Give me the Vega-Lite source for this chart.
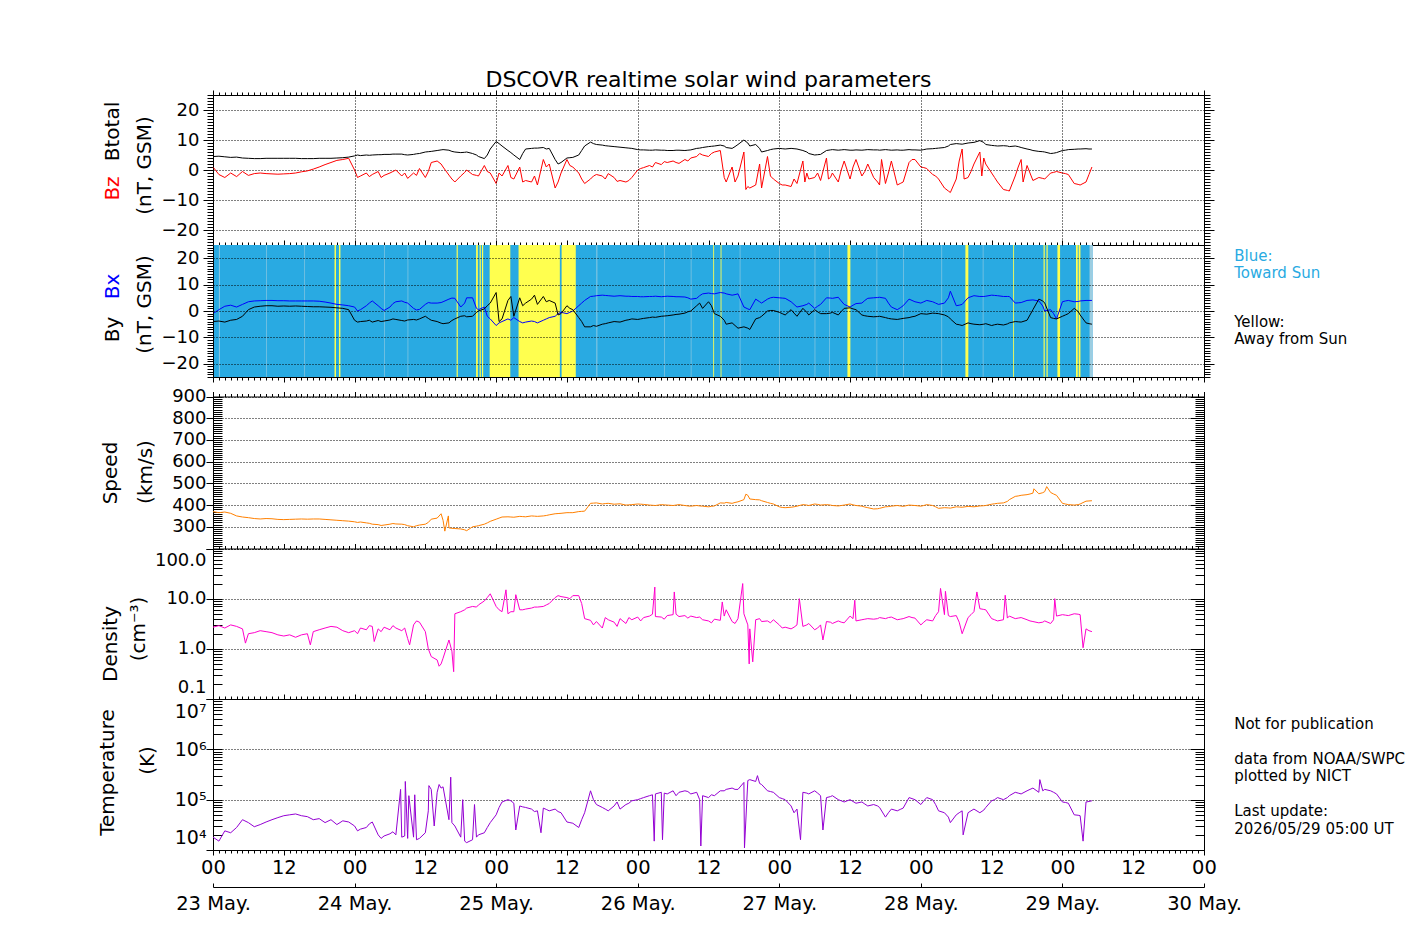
{
  "$schema": "https://vega.github.io/schema/vega-lite/v6.json",
  "padding": {"left": 97, "top": 68, "right": 5, "bottom": 10},
  "width": 991,
  "height": 755,
  "config": {
    "font": "DejaVu Sans",
    "view": {"stroke": null},
    "line": {"invalid": "filter"},
    "axis": {"labelFont": "DejaVu Sans", "titleFont": "DejaVu Sans", "labelColor": "black", "titleColor": "black", "tickColor": "black", "domainColor": "black", "titleFontWeight": "normal", "labelFontSize": 18, "titleFontSize": 20, "grid": false, "domain": false, "labelOverlap": false, "tickWidth": 1}
  },
  "title": {"text": "DSCOVR realtime solar wind parameters", "fontSize": 22, "font": "DejaVu Sans", "fontWeight": "normal", "color": "black", "anchor": "middle", "frame": "group", "offset": -2},
  "datasets": {
    "imf": [
      {"start": "2026-05-23T00:00Z", "end": "2026-05-29T05:06Z", "dir": "toward"},
      {"start": "2026-05-23T01:00Z", "end": "2026-05-23T01:09Z", "dir": "mixed"},
      {"start": "2026-05-23T09:00Z", "end": "2026-05-23T09:06Z", "dir": "mixed"},
      {"start": "2026-05-23T15:30Z", "end": "2026-05-23T15:36Z", "dir": "mixed"},
      {"start": "2026-05-24T05:00Z", "end": "2026-05-24T05:06Z", "dir": "mixed"},
      {"start": "2026-05-24T09:00Z", "end": "2026-05-24T09:06Z", "dir": "mixed"},
      {"start": "2026-05-25T17:00Z", "end": "2026-05-25T17:09Z", "dir": "mixed"},
      {"start": "2026-05-26T04:30Z", "end": "2026-05-26T04:36Z", "dir": "mixed"},
      {"start": "2026-05-26T09:00Z", "end": "2026-05-26T09:06Z", "dir": "mixed"},
      {"start": "2026-05-26T17:18Z", "end": "2026-05-26T17:24Z", "dir": "mixed"},
      {"start": "2026-05-27T00:00Z", "end": "2026-05-27T00:06Z", "dir": "mixed"},
      {"start": "2026-05-27T06:00Z", "end": "2026-05-27T06:06Z", "dir": "mixed"},
      {"start": "2026-05-27T08:30Z", "end": "2026-05-27T08:36Z", "dir": "mixed"},
      {"start": "2026-05-27T16:30Z", "end": "2026-05-27T16:36Z", "dir": "mixed"},
      {"start": "2026-05-27T21:00Z", "end": "2026-05-27T21:06Z", "dir": "mixed"},
      {"start": "2026-05-28T03:30Z", "end": "2026-05-28T03:36Z", "dir": "mixed"},
      {"start": "2026-05-28T10:30Z", "end": "2026-05-28T10:36Z", "dir": "mixed"},
      {"start": "2026-05-29T04:36Z", "end": "2026-05-29T05:06Z", "dir": "mixed"},
      {"start": "2026-05-23T20:36Z", "end": "2026-05-23T20:51Z", "dir": "away"},
      {"start": "2026-05-23T21:21Z", "end": "2026-05-23T21:36Z", "dir": "away"},
      {"start": "2026-05-24T17:18Z", "end": "2026-05-24T17:30Z", "dir": "away"},
      {"start": "2026-05-24T20:36Z", "end": "2026-05-24T20:54Z", "dir": "away"},
      {"start": "2026-05-24T21:12Z", "end": "2026-05-24T21:24Z", "dir": "away"},
      {"start": "2026-05-24T21:36Z", "end": "2026-05-24T21:48Z", "dir": "away"},
      {"start": "2026-05-24T22:54Z", "end": "2026-05-25T02:24Z", "dir": "away"},
      {"start": "2026-05-25T03:48Z", "end": "2026-05-25T10:48Z", "dir": "away"},
      {"start": "2026-05-25T11:06Z", "end": "2026-05-25T13:30Z", "dir": "away"},
      {"start": "2026-05-26T12:48Z", "end": "2026-05-26T12:57Z", "dir": "away"},
      {"start": "2026-05-26T14:03Z", "end": "2026-05-26T14:12Z", "dir": "away"},
      {"start": "2026-05-27T11:33Z", "end": "2026-05-27T12:03Z", "dir": "away"},
      {"start": "2026-05-28T07:33Z", "end": "2026-05-28T08:03Z", "dir": "away"},
      {"start": "2026-05-28T15:39Z", "end": "2026-05-28T15:48Z", "dir": "away"},
      {"start": "2026-05-28T20:48Z", "end": "2026-05-28T21:00Z", "dir": "away"},
      {"start": "2026-05-28T21:18Z", "end": "2026-05-28T21:30Z", "dir": "away"},
      {"start": "2026-05-28T23:09Z", "end": "2026-05-28T23:36Z", "dir": "away"},
      {"start": "2026-05-29T02:18Z", "end": "2026-05-29T02:36Z", "dir": "away"},
      {"start": "2026-05-29T02:45Z", "end": "2026-05-29T03:03Z", "dir": "away"}
    ],
    "sw": [
      {"time": "2026-05-23T00:00Z", "bt": 4.5, "bz": 1.0, "bx": -1.0, "by": -4.0, "v": 370, "n": 2.7, "temp": 18000},
      {"time": "2026-05-23T01:00Z", "bt": 4.6, "bz": -1.5, "bx": 0.5, "by": -3.8, "v": 365, "n": 2.9, "temp": 15000},
      {"time": "2026-05-23T02:00Z", "bt": 4.4, "bz": -2.5, "bx": 1.8, "by": -4.2, "v": 368, "n": 2.6, "temp": 24000},
      {"time": "2026-05-23T03:00Z", "bt": 4.2, "bz": -1.0, "bx": 2.2, "by": -3.5, "v": 362, "n": 3.0, "temp": 22000},
      {"time": "2026-05-23T04:00Z", "bt": 4.3, "bz": -2.2, "bx": 1.5, "by": -3.2, "v": 350, "n": 2.8, "temp": 28000},
      {"time": "2026-05-23T05:00Z", "bt": 4.0, "bz": -0.5, "bx": 2.5, "by": -2.0, "v": 345, "n": 2.5, "temp": 40000},
      {"time": "2026-05-23T06:00Z", "bt": 3.9, "bz": -1.8, "bx": 3.5, "by": 0.5, "v": 342, "n": 2.0, "temp": 35000},
      {"time": "2026-05-23T07:00Z", "bt": 3.8, "bz": -1.2, "bx": 3.8, "by": 1.5, "v": 338, "n": 2.1, "temp": 29000},
      {"time": "2026-05-23T08:00Z", "bt": 3.8, "bz": -1.0, "bx": 3.9, "by": 1.8, "v": 336, "n": 2.3, "temp": 32000},
      {"time": "2026-05-23T09:00Z", "bt": 3.9, "bz": -1.2, "bx": 4.0, "by": 2.0, "v": 338, "n": 2.2, "temp": 36000},
      {"time": "2026-05-23T10:00Z", "bt": 3.9, "bz": -1.3, "bx": 4.0, "by": 2.0, "v": 337, "n": 2.1, "temp": 40000},
      {"time": "2026-05-23T11:00Z", "bt": 3.9, "bz": -1.4, "bx": 3.9, "by": 1.8, "v": 334, "n": 1.9, "temp": 44000},
      {"time": "2026-05-23T12:00Z", "bt": 3.9, "bz": -1.3, "bx": 3.9, "by": 1.9, "v": 333, "n": 1.8, "temp": 48000},
      {"time": "2026-05-23T13:00Z", "bt": 3.9, "bz": -1.2, "bx": 3.8, "by": 1.8, "v": 334, "n": 1.9, "temp": 50000},
      {"time": "2026-05-23T14:00Z", "bt": 3.9, "bz": -1.0, "bx": 3.8, "by": 1.9, "v": 335, "n": 1.7, "temp": 52000},
      {"time": "2026-05-23T15:00Z", "bt": 3.8, "bz": -0.6, "bx": 3.8, "by": 1.8, "v": 336, "n": 1.9, "temp": 48000},
      {"time": "2026-05-23T16:00Z", "bt": 3.8, "bz": -0.3, "bx": 3.8, "by": 1.7, "v": 335, "n": 2.0, "temp": 46000},
      {"time": "2026-05-23T17:00Z", "bt": 3.8, "bz": 0.3, "bx": 3.8, "by": 1.6, "v": 336, "n": 2.2, "temp": 40000},
      {"time": "2026-05-23T18:00Z", "bt": 3.9, "bz": 1.0, "bx": 3.7, "by": 1.6, "v": 336, "n": 2.4, "temp": 42000},
      {"time": "2026-05-23T19:00Z", "bt": 3.9, "bz": 1.8, "bx": 3.4, "by": 1.5, "v": 334, "n": 2.6, "temp": 35000},
      {"time": "2026-05-23T20:00Z", "bt": 3.9, "bz": 2.5, "bx": 3.0, "by": 1.4, "v": 332, "n": 2.8, "temp": 40000},
      {"time": "2026-05-23T21:00Z", "bt": 4.0, "bz": 3.2, "bx": 2.5, "by": 1.2, "v": 330, "n": 2.7, "temp": 32000},
      {"time": "2026-05-23T22:00Z", "bt": 4.1, "bz": 3.5, "bx": 2.3, "by": 1.0, "v": 328, "n": 2.3, "temp": 38000},
      {"time": "2026-05-23T23:00Z", "bt": 4.3, "bz": 3.9, "bx": 2.0, "by": 0.5, "v": 326, "n": 2.1, "temp": 36000},
      {"time": "2026-05-24T00:00Z", "bt": 4.7, "bz": 0.0, "bx": 1.5, "by": -3.5, "v": 323, "n": 2.3, "temp": 30000},
      {"time": "2026-05-24T01:00Z", "bt": 4.8, "bz": -2.0, "bx": 0.5, "by": -4.0, "v": 322, "n": 2.6, "temp": 26000},
      {"time": "2026-05-24T02:00Z", "bt": 5.0, "bz": -1.0, "bx": 2.0, "by": -3.8, "v": 318, "n": 2.4, "temp": 28000},
      {"time": "2026-05-24T03:00Z", "bt": 5.0, "bz": -1.5, "bx": 3.8, "by": -4.2, "v": 312, "n": 2.8, "temp": 36000},
      {"time": "2026-05-24T04:00Z", "bt": 5.1, "bz": -0.5, "bx": 2.0, "by": -3.6, "v": 310, "n": 2.5, "temp": 20000},
      {"time": "2026-05-24T05:00Z", "bt": 5.2, "bz": -1.8, "bx": 0.2, "by": -3.8, "v": 308, "n": 2.7, "temp": 19000},
      {"time": "2026-05-24T06:00Z", "bt": 5.2, "bz": -1.0, "bx": 1.5, "by": -3.4, "v": 312, "n": 2.4, "temp": 21000},
      {"time": "2026-05-24T07:00Z", "bt": 5.3, "bz": 0.0, "bx": 3.5, "by": -3.2, "v": 313, "n": 2.6, "temp": 20000},
      {"time": "2026-05-24T08:00Z", "bt": 5.3, "bz": -2.0, "bx": 3.8, "by": -3.6, "v": 312, "n": 2.3, "temp": 18000},
      {"time": "2026-05-24T09:00Z", "bt": 5.0, "bz": -2.8, "bx": 3.0, "by": -3.4, "v": 305, "n": 1.6, "temp": 17000},
      {"time": "2026-05-24T10:00Z", "bt": 5.2, "bz": -1.0, "bx": 1.0, "by": -3.2, "v": 300, "n": 3.0, "temp": 18000},
      {"time": "2026-05-24T11:00Z", "bt": 5.5, "bz": 0.5, "bx": 0.6, "by": -3.0, "v": 308, "n": 3.4, "temp": 17000},
      {"time": "2026-05-24T12:00Z", "bt": 6.0, "bz": -2.5, "bx": 2.5, "by": -2.0, "v": 312, "n": 2.2, "temp": 22000},
      {"time": "2026-05-24T13:00Z", "bt": 6.2, "bz": 2.5, "bx": 3.0, "by": -3.5, "v": 335, "n": 0.7, "temp": 160000},
      {"time": "2026-05-24T14:00Z", "bt": 6.5, "bz": 3.0, "bx": 3.0, "by": -4.0, "v": 340, "n": 0.6, "temp": 140000},
      {"time": "2026-05-24T15:00Z", "bt": 6.8, "bz": 1.0, "bx": 3.5, "by": -4.8, "v": 330, "n": 0.65, "temp": 180000},
      {"time": "2026-05-24T16:00Z", "bt": 6.6, "bz": -1.7, "bx": 4.5, "by": -4.5, "v": 295, "n": 1.5, "temp": 40000},
      {"time": "2026-05-24T17:00Z", "bt": 6.0, "bz": -4.0, "bx": 4.8, "by": -3.0, "v": 292, "n": 5.0, "temp": 30000},
      {"time": "2026-05-24T18:00Z", "bt": 5.8, "bz": -2.0, "bx": 1.5, "by": -2.0, "v": 290, "n": 5.5, "temp": 18000},
      {"time": "2026-05-24T19:00Z", "bt": 6.0, "bz": 0.0, "bx": 5.0, "by": -2.2, "v": 282, "n": 6.5, "temp": 14000},
      {"time": "2026-05-24T20:00Z", "bt": 5.5, "bz": -1.5, "bx": 5.0, "by": -2.0, "v": 300, "n": 7.0, "temp": 16000},
      {"time": "2026-05-24T21:00Z", "bt": 4.5, "bz": -2.0, "bx": 0.5, "by": 0.0, "v": 305, "n": 7.5, "temp": 20000},
      {"time": "2026-05-24T22:00Z", "bt": 3.8, "bz": 1.5, "bx": 1.5, "by": 0.8, "v": 312, "n": 9.0, "temp": 22000},
      {"time": "2026-05-24T23:00Z", "bt": 7.0, "bz": -1.0, "bx": -3.0, "by": 3.0, "v": 325, "n": 12.5, "temp": 35000},
      {"time": "2026-05-25T00:00Z", "bt": 9.5, "bz": -4.5, "bx": -5.5, "by": 7.0, "v": 335, "n": 7.0, "temp": 50000},
      {"time": "2026-05-25T01:00Z", "bt": 8.0, "bz": -2.0, "bx": -4.0, "by": -3.0, "v": 345, "n": 5.5, "temp": 90000},
      {"time": "2026-05-25T02:00Z", "bt": 6.5, "bz": 1.5, "bx": -3.0, "by": 4.0, "v": 346, "n": 5.0, "temp": 100000},
      {"time": "2026-05-25T03:00Z", "bt": 5.0, "bz": -3.0, "bx": -2.5, "by": -2.0, "v": 344, "n": 5.5, "temp": 85000},
      {"time": "2026-05-25T04:00Z", "bt": 3.5, "bz": 1.0, "bx": -4.0, "by": 5.0, "v": 348, "n": 6.0, "temp": 75000},
      {"time": "2026-05-25T05:00Z", "bt": 7.0, "bz": -3.5, "bx": -4.2, "by": 3.0, "v": 346, "n": 6.2, "temp": 70000},
      {"time": "2026-05-25T06:00Z", "bt": 7.2, "bz": -4.0, "bx": -3.8, "by": 4.5, "v": 350, "n": 6.5, "temp": 65000},
      {"time": "2026-05-25T07:00Z", "bt": 7.3, "bz": -5.0, "bx": -4.5, "by": 2.5, "v": 348, "n": 6.8, "temp": 60000},
      {"time": "2026-05-25T08:00Z", "bt": 7.5, "bz": 3.5, "bx": -3.5, "by": 5.5, "v": 350, "n": 7.0, "temp": 68000},
      {"time": "2026-05-25T09:00Z", "bt": 7.2, "bz": 2.0, "bx": -2.5, "by": 4.0, "v": 355, "n": 8.0, "temp": 60000},
      {"time": "2026-05-25T10:00Z", "bt": 3.5, "bz": -6.0, "bx": -2.0, "by": 3.0, "v": 360, "n": 10.5, "temp": 65000},
      {"time": "2026-05-25T11:00Z", "bt": 2.5, "bz": -1.0, "bx": -0.5, "by": -1.0, "v": 362, "n": 11.0, "temp": 55000},
      {"time": "2026-05-25T12:00Z", "bt": 4.0, "bz": 3.5, "bx": -1.0, "by": 2.0, "v": 365, "n": 10.5, "temp": 36000},
      {"time": "2026-05-25T13:00Z", "bt": 4.2, "bz": 1.0, "bx": 0.0, "by": 0.5, "v": 365, "n": 11.5, "temp": 34000},
      {"time": "2026-05-25T14:00Z", "bt": 5.0, "bz": -1.0, "bx": 2.0, "by": -2.5, "v": 370, "n": 11.5, "temp": 28000},
      {"time": "2026-05-25T15:00Z", "bt": 8.0, "bz": -4.5, "bx": 4.0, "by": -6.0, "v": 372, "n": 4.0, "temp": 55000},
      {"time": "2026-05-25T16:00Z", "bt": 9.3, "bz": -3.0, "bx": 5.5, "by": -6.0, "v": 408, "n": 3.7, "temp": 150000},
      {"time": "2026-05-25T17:00Z", "bt": 8.5, "bz": -1.5, "bx": 5.8, "by": -5.8, "v": 410, "n": 3.5, "temp": 80000},
      {"time": "2026-05-25T18:00Z", "bt": 8.3, "bz": -2.0, "bx": 6.0, "by": -5.0, "v": 405, "n": 2.6, "temp": 70000},
      {"time": "2026-05-25T19:00Z", "bt": 8.0, "bz": -1.2, "bx": 5.8, "by": -4.5, "v": 408, "n": 3.8, "temp": 60000},
      {"time": "2026-05-25T20:00Z", "bt": 7.8, "bz": -2.5, "bx": 5.6, "by": -4.0, "v": 404, "n": 3.4, "temp": 75000},
      {"time": "2026-05-25T21:00Z", "bt": 7.6, "bz": -3.5, "bx": 5.8, "by": -4.2, "v": 406, "n": 4.0, "temp": 65000},
      {"time": "2026-05-25T22:00Z", "bt": 7.4, "bz": -4.0, "bx": 5.6, "by": -3.5, "v": 400, "n": 3.2, "temp": 80000},
      {"time": "2026-05-25T23:00Z", "bt": 7.2, "bz": -2.5, "bx": 5.5, "by": -3.0, "v": 402, "n": 3.8, "temp": 95000},
      {"time": "2026-05-26T00:00Z", "bt": 6.8, "bz": 0.0, "bx": 5.5, "by": -3.2, "v": 405, "n": 4.3, "temp": 100000},
      {"time": "2026-05-26T01:00Z", "bt": 6.7, "bz": 0.8, "bx": 5.4, "by": -2.8, "v": 403, "n": 4.2, "temp": 110000},
      {"time": "2026-05-26T02:00Z", "bt": 6.6, "bz": 1.5, "bx": 5.5, "by": -2.5, "v": 400, "n": 4.5, "temp": 120000},
      {"time": "2026-05-26T03:00Z", "bt": 6.7, "bz": 2.5, "bx": 5.6, "by": -2.4, "v": 398, "n": 4.4, "temp": 130000},
      {"time": "2026-05-26T04:00Z", "bt": 6.6, "bz": 1.8, "bx": 5.4, "by": -2.0, "v": 402, "n": 4.3, "temp": 140000},
      {"time": "2026-05-26T05:00Z", "bt": 6.5, "bz": 2.5, "bx": 5.6, "by": -1.8, "v": 400, "n": 4.6, "temp": 130000},
      {"time": "2026-05-26T06:00Z", "bt": 6.5, "bz": 3.0, "bx": 5.5, "by": -1.5, "v": 398, "n": 4.8, "temp": 150000},
      {"time": "2026-05-26T07:00Z", "bt": 6.6, "bz": 2.2, "bx": 5.4, "by": -1.2, "v": 402, "n": 4.4, "temp": 140000},
      {"time": "2026-05-26T08:00Z", "bt": 6.5, "bz": 3.5, "bx": 5.3, "by": -0.8, "v": 398, "n": 4.6, "temp": 150000},
      {"time": "2026-05-26T09:00Z", "bt": 6.7, "bz": 4.0, "bx": 4.5, "by": 0.0, "v": 395, "n": 4.5, "temp": 130000},
      {"time": "2026-05-26T10:00Z", "bt": 7.2, "bz": 4.5, "bx": 4.8, "by": 2.0, "v": 398, "n": 4.2, "temp": 140000},
      {"time": "2026-05-26T11:00Z", "bt": 7.5, "bz": 5.0, "bx": 6.5, "by": 1.0, "v": 395, "n": 3.8, "temp": 120000},
      {"time": "2026-05-26T12:00Z", "bt": 7.8, "bz": 4.5, "bx": 6.8, "by": 3.5, "v": 392, "n": 3.6, "temp": 110000},
      {"time": "2026-05-26T13:00Z", "bt": 8.0, "bz": 6.0, "bx": 6.5, "by": -1.0, "v": 396, "n": 3.9, "temp": 120000},
      {"time": "2026-05-26T14:00Z", "bt": 8.3, "bz": 6.5, "bx": 7.0, "by": -2.0, "v": 410, "n": 3.7, "temp": 150000},
      {"time": "2026-05-26T15:00Z", "bt": 7.5, "bz": -4.0, "bx": 6.5, "by": -5.0, "v": 412, "n": 6.0, "temp": 160000},
      {"time": "2026-05-26T16:00Z", "bt": 7.2, "bz": 1.0, "bx": 6.0, "by": -4.5, "v": 408, "n": 3.5, "temp": 170000},
      {"time": "2026-05-26T17:00Z", "bt": 8.5, "bz": -2.0, "bx": 6.5, "by": -6.5, "v": 415, "n": 4.0, "temp": 160000},
      {"time": "2026-05-26T18:00Z", "bt": 10.0, "bz": 6.0, "bx": 1.5, "by": -6.0, "v": 425, "n": 5.0, "temp": 220000},
      {"time": "2026-05-26T19:00Z", "bt": 8.0, "bz": -6.0, "bx": 0.5, "by": -7.0, "v": 428, "n": 2.5, "temp": 250000},
      {"time": "2026-05-26T20:00Z", "bt": 8.5, "bz": -5.0, "bx": 4.5, "by": -3.0, "v": 425, "n": 3.8, "temp": 230000},
      {"time": "2026-05-26T21:00Z", "bt": 6.0, "bz": -6.0, "bx": 3.0, "by": -2.0, "v": 420, "n": 3.5, "temp": 200000},
      {"time": "2026-05-26T22:00Z", "bt": 6.5, "bz": 4.5, "bx": 4.5, "by": 0.0, "v": 412, "n": 3.6, "temp": 150000},
      {"time": "2026-05-26T23:00Z", "bt": 7.0, "bz": -3.0, "bx": 5.2, "by": 0.2, "v": 405, "n": 3.8, "temp": 140000},
      {"time": "2026-05-27T00:00Z", "bt": 7.2, "bz": -4.5, "bx": 5.0, "by": -0.5, "v": 392, "n": 3.0, "temp": 110000},
      {"time": "2026-05-27T01:00Z", "bt": 7.0, "bz": -5.0, "bx": 4.8, "by": -1.5, "v": 388, "n": 2.7, "temp": 100000},
      {"time": "2026-05-27T02:00Z", "bt": 7.2, "bz": -5.5, "bx": 3.5, "by": 0.5, "v": 390, "n": 2.5, "temp": 75000},
      {"time": "2026-05-27T03:00Z", "bt": 7.0, "bz": -4.5, "bx": 1.5, "by": -2.0, "v": 395, "n": 3.0, "temp": 65000},
      {"time": "2026-05-27T04:00Z", "bt": 6.5, "bz": 3.0, "bx": 2.0, "by": 1.0, "v": 402, "n": 2.8, "temp": 140000},
      {"time": "2026-05-27T05:00Z", "bt": 5.5, "bz": -3.0, "bx": 3.0, "by": -1.5, "v": 398, "n": 3.2, "temp": 130000},
      {"time": "2026-05-27T06:00Z", "bt": 5.0, "bz": -2.5, "bx": 1.0, "by": 0.5, "v": 405, "n": 2.4, "temp": 150000},
      {"time": "2026-05-27T07:00Z", "bt": 5.2, "bz": -3.5, "bx": 2.5, "by": -1.0, "v": 400, "n": 3.0, "temp": 120000},
      {"time": "2026-05-27T08:00Z", "bt": 6.5, "bz": 4.0, "bx": 5.0, "by": -1.0, "v": 402, "n": 3.5, "temp": 110000},
      {"time": "2026-05-27T09:00Z", "bt": 6.8, "bz": -1.0, "bx": 4.8, "by": -0.5, "v": 398, "n": 3.2, "temp": 120000},
      {"time": "2026-05-27T10:00Z", "bt": 6.6, "bz": -4.0, "bx": 5.2, "by": -1.5, "v": 396, "n": 3.6, "temp": 100000},
      {"time": "2026-05-27T11:00Z", "bt": 6.8, "bz": 3.0, "bx": 2.5, "by": 1.0, "v": 400, "n": 3.3, "temp": 90000},
      {"time": "2026-05-27T12:00Z", "bt": 6.6, "bz": -3.0, "bx": 1.5, "by": 1.2, "v": 405, "n": 4.5, "temp": 100000},
      {"time": "2026-05-27T13:00Z", "bt": 6.7, "bz": 3.5, "bx": 2.8, "by": 0.5, "v": 398, "n": 3.6, "temp": 85000},
      {"time": "2026-05-27T14:00Z", "bt": 6.6, "bz": -2.0, "bx": 3.0, "by": -1.5, "v": 395, "n": 3.8, "temp": 90000},
      {"time": "2026-05-27T15:00Z", "bt": 6.8, "bz": 2.0, "bx": 4.8, "by": -2.0, "v": 388, "n": 4.0, "temp": 75000},
      {"time": "2026-05-27T16:00Z", "bt": 6.7, "bz": -2.5, "bx": 5.0, "by": -2.2, "v": 382, "n": 3.9, "temp": 80000},
      {"time": "2026-05-27T17:00Z", "bt": 6.6, "bz": -5.0, "bx": 5.2, "by": -2.0, "v": 385, "n": 4.2, "temp": 70000},
      {"time": "2026-05-27T18:00Z", "bt": 6.8, "bz": -4.5, "bx": 4.8, "by": -2.5, "v": 392, "n": 4.0, "temp": 45000},
      {"time": "2026-05-27T19:00Z", "bt": 6.6, "bz": 3.0, "bx": 1.5, "by": -3.0, "v": 395, "n": 4.3, "temp": 65000},
      {"time": "2026-05-27T20:00Z", "bt": 6.7, "bz": -5.0, "bx": 0.5, "by": -3.2, "v": 398, "n": 3.8, "temp": 60000},
      {"time": "2026-05-27T21:00Z", "bt": 6.6, "bz": -4.0, "bx": 2.0, "by": -2.8, "v": 394, "n": 4.0, "temp": 68000},
      {"time": "2026-05-27T22:00Z", "bt": 6.8, "bz": 2.5, "bx": 4.5, "by": -2.5, "v": 400, "n": 4.4, "temp": 110000},
      {"time": "2026-05-27T23:00Z", "bt": 6.7, "bz": 3.5, "bx": 3.5, "by": -2.0, "v": 398, "n": 4.1, "temp": 100000},
      {"time": "2026-05-28T00:00Z", "bt": 6.6, "bz": 1.0, "bx": 3.0, "by": -1.0, "v": 395, "n": 3.0, "temp": 80000},
      {"time": "2026-05-28T01:00Z", "bt": 7.0, "bz": 0.5, "bx": 4.0, "by": -1.2, "v": 402, "n": 3.8, "temp": 110000},
      {"time": "2026-05-28T02:00Z", "bt": 7.1, "bz": -1.5, "bx": 3.5, "by": -0.8, "v": 398, "n": 3.6, "temp": 100000},
      {"time": "2026-05-28T03:00Z", "bt": 7.3, "bz": -3.0, "bx": 2.5, "by": -1.0, "v": 385, "n": 5.5, "temp": 60000},
      {"time": "2026-05-28T04:00Z", "bt": 7.5, "bz": -6.0, "bx": 3.0, "by": -1.5, "v": 388, "n": 4.8, "temp": 55000},
      {"time": "2026-05-28T05:00Z", "bt": 8.5, "bz": -7.5, "bx": 7.5, "by": -3.0, "v": 386, "n": 4.4, "temp": 35000},
      {"time": "2026-05-28T06:00Z", "bt": 8.8, "bz": -3.0, "bx": 2.0, "by": -5.0, "v": 392, "n": 4.6, "temp": 50000},
      {"time": "2026-05-28T07:00Z", "bt": 8.6, "bz": 7.0, "bx": 2.5, "by": -5.5, "v": 390, "n": 2.0, "temp": 60000},
      {"time": "2026-05-28T08:00Z", "bt": 9.0, "bz": -2.5, "bx": 5.0, "by": -4.5, "v": 394, "n": 4.2, "temp": 55000},
      {"time": "2026-05-28T09:00Z", "bt": 9.2, "bz": 2.0, "bx": 5.8, "by": -5.0, "v": 392, "n": 5.5, "temp": 65000},
      {"time": "2026-05-28T10:00Z", "bt": 9.8, "bz": 6.0, "bx": 5.5, "by": -5.2, "v": 396, "n": 6.3, "temp": 55000},
      {"time": "2026-05-28T11:00Z", "bt": 8.5, "bz": 2.0, "bx": 5.6, "by": -4.8, "v": 398, "n": 6.0, "temp": 70000},
      {"time": "2026-05-28T12:00Z", "bt": 8.2, "bz": -1.0, "bx": 6.0, "by": -5.5, "v": 404, "n": 4.0, "temp": 95000},
      {"time": "2026-05-28T13:00Z", "bt": 8.0, "bz": -4.0, "bx": 5.8, "by": -5.0, "v": 408, "n": 3.6, "temp": 110000},
      {"time": "2026-05-28T14:00Z", "bt": 8.1, "bz": -6.5, "bx": 5.5, "by": -5.3, "v": 410, "n": 3.8, "temp": 100000},
      {"time": "2026-05-28T15:00Z", "bt": 7.8, "bz": -7.0, "bx": 5.5, "by": -4.5, "v": 425, "n": 4.5, "temp": 120000},
      {"time": "2026-05-28T16:00Z", "bt": 8.0, "bz": -2.0, "bx": 3.0, "by": -4.0, "v": 440, "n": 4.0, "temp": 140000},
      {"time": "2026-05-28T17:00Z", "bt": 7.5, "bz": 3.5, "bx": 3.2, "by": -4.2, "v": 445, "n": 4.2, "temp": 130000},
      {"time": "2026-05-28T18:00Z", "bt": 7.0, "bz": 1.5, "bx": 4.0, "by": -3.5, "v": 448, "n": 3.8, "temp": 150000},
      {"time": "2026-05-28T19:00Z", "bt": 6.5, "bz": -3.5, "bx": 4.2, "by": 0.5, "v": 455, "n": 3.5, "temp": 170000},
      {"time": "2026-05-28T20:00Z", "bt": 6.2, "bz": -2.5, "bx": 3.8, "by": 4.5, "v": 452, "n": 3.3, "temp": 140000},
      {"time": "2026-05-28T21:00Z", "bt": 6.0, "bz": -3.0, "bx": 0.0, "by": 3.0, "v": 462, "n": 3.6, "temp": 160000},
      {"time": "2026-05-28T22:00Z", "bt": 5.5, "bz": -1.0, "bx": 0.5, "by": -2.5, "v": 458, "n": 3.2, "temp": 150000},
      {"time": "2026-05-28T23:00Z", "bt": 5.8, "bz": -0.5, "bx": -3.0, "by": -3.0, "v": 445, "n": 4.5, "temp": 130000},
      {"time": "2026-05-29T00:00Z", "bt": 6.5, "bz": -1.0, "bx": 3.5, "by": -2.0, "v": 408, "n": 4.8, "temp": 90000},
      {"time": "2026-05-29T01:00Z", "bt": 6.8, "bz": -1.5, "bx": 4.0, "by": -1.0, "v": 402, "n": 4.6, "temp": 85000},
      {"time": "2026-05-29T02:00Z", "bt": 6.9, "bz": -4.5, "bx": 3.5, "by": 1.0, "v": 400, "n": 5.0, "temp": 50000},
      {"time": "2026-05-29T03:00Z", "bt": 7.0, "bz": -5.0, "bx": 3.8, "by": -1.5, "v": 405, "n": 4.8, "temp": 48000},
      {"time": "2026-05-29T04:00Z", "bt": 7.1, "bz": -4.0, "bx": 4.0, "by": -4.5, "v": 418, "n": 2.5, "temp": 90000},
      {"time": "2026-05-29T05:00Z", "bt": 7.0, "bz": 1.0, "bx": 4.0, "by": -5.0, "v": 420, "n": 2.2, "temp": 95000},
      {"time": "2026-05-24T00:30Z", "bt": 5.0, "bz": -2.5, "bx": 0.0, "by": -4.2, "v": 320, "n": 2.0, "temp": 24000},
      {"time": "2026-05-24T02:30Z", "bt": 4.9, "bz": -2.2, "bx": 3.0, "by": -3.5, "v": 316, "n": 2.9, "temp": 33000},
      {"time": "2026-05-24T04:30Z", "bt": 5.1, "bz": -2.5, "bx": 1.0, "by": -4.0, "v": 306, "n": 2.2, "temp": 17000},
      {"time": "2026-05-24T06:30Z", "bt": 5.3, "bz": -0.5, "bx": 2.8, "by": -3.0, "v": 315, "n": 2.9, "temp": 23000},
      {"time": "2026-05-24T08:30Z", "bt": 5.1, "bz": -1.0, "bx": 3.3, "by": -3.8, "v": 310, "n": 2.6, "temp": 19000},
      {"time": "2026-05-24T10:30Z", "bt": 5.4, "bz": -1.8, "bx": 0.4, "by": -3.4, "v": 305, "n": 3.6, "temp": 16000},
      {"time": "2026-05-24T12:30Z", "bt": 6.1, "bz": -0.5, "bx": 3.2, "by": -2.8, "v": 320, "n": 1.0, "temp": 60000},
      {"time": "2026-05-24T14:40Z", "bt": 6.7, "bz": 2.0, "bx": 3.2, "by": -4.6, "v": 360, "n": 0.5, "temp": 170000},
      {"time": "2026-05-24T16:30Z", "bt": 6.2, "bz": -3.0, "bx": 4.9, "by": -3.6, "v": 293, "n": 0.9, "temp": 35000},
      {"time": "2026-05-24T18:40Z", "bt": 5.9, "bz": -0.8, "bx": 3.0, "by": -1.8, "v": 286, "n": 6.0, "temp": 15000},
      {"time": "2026-05-24T20:40Z", "bt": 5.0, "bz": -1.8, "bx": 1.0, "by": -0.5, "v": 303, "n": 6.8, "temp": 18000},
      {"time": "2026-05-24T22:30Z", "bt": 5.0, "bz": -0.5, "bx": -2.0, "by": 2.0, "v": 318, "n": 10.5, "temp": 28000},
      {"time": "2026-05-25T00:30Z", "bt": 8.8, "bz": -1.0, "bx": -4.5, "by": -4.0, "v": 340, "n": 6.0, "temp": 70000},
      {"time": "2026-05-25T02:30Z", "bt": 5.8, "bz": -2.5, "bx": -3.5, "by": 5.5, "v": 345, "n": 5.5, "temp": 95000},
      {"time": "2026-05-25T04:30Z", "bt": 5.5, "bz": -4.0, "bx": -4.5, "by": 2.0, "v": 347, "n": 6.0, "temp": 72000},
      {"time": "2026-05-25T06:30Z", "bt": 7.3, "bz": -2.0, "bx": -4.0, "by": 6.0, "v": 349, "n": 6.8, "temp": 58000},
      {"time": "2026-05-25T08:30Z", "bt": 7.0, "bz": 1.0, "bx": -3.0, "by": 3.5, "v": 352, "n": 7.5, "temp": 64000},
      {"time": "2026-05-25T10:30Z", "bt": 2.0, "bz": -4.0, "bx": -1.0, "by": -1.5, "v": 361, "n": 11.5, "temp": 58000},
      {"time": "2026-05-25T12:30Z", "bt": 4.1, "bz": 1.5, "bx": -0.5, "by": 1.0, "v": 365, "n": 10.0, "temp": 35000},
      {"time": "2026-05-25T14:30Z", "bt": 6.5, "bz": -3.0, "bx": 3.0, "by": -4.0, "v": 371, "n": 8.0, "temp": 40000},
      {"time": "2026-05-25T16:30Z", "bt": 8.8, "bz": -2.0, "bx": 5.6, "by": -5.5, "v": 409, "n": 3.0, "temp": 100000},
      {"time": "2026-05-25T18:30Z", "bt": 8.1, "bz": -3.0, "bx": 5.9, "by": -4.8, "v": 407, "n": 4.2, "temp": 65000},
      {"time": "2026-05-25T20:30Z", "bt": 7.7, "bz": -3.8, "bx": 5.7, "by": -4.1, "v": 405, "n": 2.8, "temp": 90000},
      {"time": "2026-05-25T22:30Z", "bt": 7.3, "bz": -3.5, "bx": 5.6, "by": -3.3, "v": 401, "n": 4.2, "temp": 85000},
      {"time": "2026-05-26T00:30Z", "bt": 6.7, "bz": 0.5, "bx": 5.4, "by": -3.0, "v": 404, "n": 3.6, "temp": 105000},
      {"time": "2026-05-26T02:30Z", "bt": 6.6, "bz": 1.0, "bx": 5.5, "by": -2.3, "v": 399, "n": 4.9, "temp": 125000},
      {"time": "2026-05-26T04:30Z", "bt": 6.6, "bz": 2.8, "bx": 5.5, "by": -1.9, "v": 401, "n": 3.9, "temp": 135000},
      {"time": "2026-05-26T06:30Z", "bt": 6.6, "bz": 2.5, "bx": 5.4, "by": -1.3, "v": 400, "n": 4.9, "temp": 120000},
      {"time": "2026-05-26T08:30Z", "bt": 6.6, "bz": 3.0, "bx": 5.0, "by": -0.3, "v": 396, "n": 4.1, "temp": 145000},
      {"time": "2026-05-26T10:30Z", "bt": 7.3, "bz": 5.5, "bx": 5.8, "by": 3.0, "v": 396, "n": 4.3, "temp": 100000},
      {"time": "2026-05-26T12:30Z", "bt": 7.9, "bz": 5.5, "bx": 6.6, "by": 2.0, "v": 394, "n": 3.3, "temp": 125000},
      {"time": "2026-05-26T14:40Z", "bt": 8.0, "bz": -2.5, "bx": 6.8, "by": -3.5, "v": 409, "n": 4.5, "temp": 150000},
      {"time": "2026-05-26T16:30Z", "bt": 7.8, "bz": -4.0, "bx": 6.2, "by": -5.5, "v": 412, "n": 3.2, "temp": 160000},
      {"time": "2026-05-26T18:40Z", "bt": 9.0, "bz": -5.5, "bx": 0.8, "by": -6.5, "v": 445, "n": 3.0, "temp": 240000},
      {"time": "2026-05-26T20:40Z", "bt": 7.2, "bz": 2.0, "bx": 3.5, "by": -2.5, "v": 424, "n": 4.0, "temp": 210000},
      {"time": "2026-05-26T22:30Z", "bt": 6.8, "bz": -2.0, "bx": 5.0, "by": 0.2, "v": 408, "n": 3.3, "temp": 145000},
      {"time": "2026-05-27T00:30Z", "bt": 7.1, "bz": -5.0, "bx": 4.9, "by": -1.0, "v": 389, "n": 2.6, "temp": 105000},
      {"time": "2026-05-27T02:30Z", "bt": 7.1, "bz": -3.0, "bx": 2.5, "by": -0.8, "v": 392, "n": 2.7, "temp": 55000},
      {"time": "2026-05-27T04:40Z", "bt": 6.0, "bz": -1.0, "bx": 2.5, "by": -0.5, "v": 400, "n": 3.0, "temp": 135000},
      {"time": "2026-05-27T06:30Z", "bt": 5.1, "bz": -1.0, "bx": 1.8, "by": -0.3, "v": 403, "n": 2.6, "temp": 135000},
      {"time": "2026-05-27T08:40Z", "bt": 6.7, "bz": -2.5, "bx": 4.9, "by": -0.8, "v": 400, "n": 3.4, "temp": 115000},
      {"time": "2026-05-27T10:30Z", "bt": 6.7, "bz": 0.0, "bx": 3.8, "by": -0.2, "v": 398, "n": 3.4, "temp": 95000},
      {"time": "2026-05-27T12:30Z", "bt": 6.6, "bz": 1.0, "bx": 2.2, "by": 0.8, "v": 401, "n": 4.0, "temp": 92000},
      {"time": "2026-05-27T14:30Z", "bt": 6.7, "bz": -0.5, "bx": 4.0, "by": -1.8, "v": 391, "n": 3.9, "temp": 82000},
      {"time": "2026-05-27T16:40Z", "bt": 6.7, "bz": -4.0, "bx": 5.1, "by": -2.1, "v": 383, "n": 4.0, "temp": 75000},
      {"time": "2026-05-27T18:30Z", "bt": 6.7, "bz": -1.0, "bx": 3.0, "by": -2.8, "v": 393, "n": 4.2, "temp": 55000},
      {"time": "2026-05-27T20:30Z", "bt": 6.6, "bz": -4.5, "bx": 1.2, "by": -3.0, "v": 396, "n": 3.9, "temp": 64000},
      {"time": "2026-05-27T22:30Z", "bt": 6.7, "bz": 3.5, "bx": 4.0, "by": -2.2, "v": 399, "n": 4.2, "temp": 105000},
      {"time": "2026-05-28T00:30Z", "bt": 6.8, "bz": 0.8, "bx": 3.5, "by": -1.1, "v": 398, "n": 3.4, "temp": 95000},
      {"time": "2026-05-28T02:30Z", "bt": 7.2, "bz": -2.0, "bx": 3.0, "by": -0.9, "v": 392, "n": 4.6, "temp": 80000},
      {"time": "2026-05-28T04:40Z", "bt": 8.0, "bz": -7.0, "bx": 5.0, "by": -2.2, "v": 387, "n": 4.6, "temp": 45000},
      {"time": "2026-05-28T06:30Z", "bt": 8.7, "bz": 3.0, "bx": 2.2, "by": -5.2, "v": 391, "n": 3.4, "temp": 55000},
      {"time": "2026-05-28T08:30Z", "bt": 9.1, "bz": -0.5, "bx": 5.4, "by": -4.8, "v": 393, "n": 4.8, "temp": 60000},
      {"time": "2026-05-28T10:40Z", "bt": 9.2, "bz": 4.0, "bx": 5.5, "by": -5.0, "v": 397, "n": 6.1, "temp": 62000},
      {"time": "2026-05-28T12:30Z", "bt": 8.1, "bz": -2.5, "bx": 5.9, "by": -5.2, "v": 406, "n": 3.8, "temp": 100000},
      {"time": "2026-05-28T14:40Z", "bt": 8.0, "bz": -6.8, "bx": 5.5, "by": -4.9, "v": 417, "n": 4.1, "temp": 110000},
      {"time": "2026-05-28T16:30Z", "bt": 7.8, "bz": 1.0, "bx": 3.1, "by": -4.1, "v": 442, "n": 4.1, "temp": 135000},
      {"time": "2026-05-28T18:30Z", "bt": 6.8, "bz": -1.0, "bx": 4.1, "by": -1.5, "v": 451, "n": 3.6, "temp": 160000},
      {"time": "2026-05-28T20:40Z", "bt": 6.1, "bz": -2.8, "bx": 1.9, "by": 3.8, "v": 457, "n": 3.4, "temp": 150000},
      {"time": "2026-05-28T22:30Z", "bt": 5.6, "bz": -0.8, "bx": -1.0, "by": -2.8, "v": 451, "n": 3.8, "temp": 140000},
      {"time": "2026-05-29T00:30Z", "bt": 6.6, "bz": -1.2, "bx": 3.8, "by": -1.5, "v": 405, "n": 4.7, "temp": 88000},
      {"time": "2026-05-29T02:40Z", "bt": 7.0, "bz": -4.8, "bx": 3.6, "by": -0.2, "v": 402, "n": 4.9, "temp": 49000},
      {"time": "2026-05-29T04:30Z", "bt": 7.0, "bz": -1.5, "bx": 4.0, "by": -4.8, "v": 419, "n": 2.3, "temp": 92000},
      {"time": "2026-05-23T05:30Z", "n": 1.3},
      {"time": "2026-05-23T16:30Z", "n": 1.2},
      {"time": "2026-05-24T03:20Z", "n": 1.4},
      {"time": "2026-05-24T09:20Z", "n": 1.2},
      {"time": "2026-05-24T07:48Z", "temp": 160000},
      {"time": "2026-05-24T08:36Z", "temp": 230000},
      {"time": "2026-05-24T09:12Z", "temp": 120000},
      {"time": "2026-05-24T10:12Z", "temp": 125000},
      {"time": "2026-05-24T12:36Z", "temp": 190000},
      {"time": "2026-05-24T13:30Z", "temp": 30000},
      {"time": "2026-05-24T14:20Z", "temp": 200000, "n": 0.45},
      {"time": "2026-05-24T15:18Z", "v": 280},
      {"time": "2026-05-24T15:54Z", "v": 350},
      {"time": "2026-05-24T16:18Z", "temp": 280000},
      {"time": "2026-05-24T16:48Z", "n": 0.35},
      {"time": "2026-05-24T18:20Z", "temp": 100000},
      {"time": "2026-05-24T20:20Z", "temp": 80000},
      {"time": "2026-05-25T01:40Z", "n": 15},
      {"time": "2026-05-25T03:20Z", "n": 12, "temp": 25000},
      {"time": "2026-05-25T07:36Z", "temp": 22000},
      {"time": "2026-05-26T02:48Z", "temp": 15000},
      {"time": "2026-05-26T02:54Z", "n": 17},
      {"time": "2026-05-26T04:12Z", "temp": 16000},
      {"time": "2026-05-26T06:12Z", "n": 13.6},
      {"time": "2026-05-26T10:42Z", "temp": 12000},
      {"time": "2026-05-26T14:20Z", "n": 8.6},
      {"time": "2026-05-26T17:48Z", "n": 20},
      {"time": "2026-05-26T18:06Z", "temp": 11000},
      {"time": "2026-05-26T18:20Z", "v": 450, "bz": -6.5},
      {"time": "2026-05-26T18:54Z", "n": 0.5},
      {"time": "2026-05-26T19:30Z", "n": 0.55},
      {"time": "2026-05-26T20:18Z", "temp": 300000},
      {"time": "2026-05-27T03:24Z", "n": 10},
      {"time": "2026-05-27T03:36Z", "temp": 16000},
      {"time": "2026-05-27T04:20Z", "bz": -4.0},
      {"time": "2026-05-27T07:24Z", "n": 1.5, "temp": 25000},
      {"time": "2026-05-27T08:20Z", "bz": -3.0},
      {"time": "2026-05-27T12:48Z", "n": 9.3},
      {"time": "2026-05-27T17:20Z", "bz": 3.5},
      {"time": "2026-05-28T03:20Z", "n": 16},
      {"time": "2026-05-28T04:10Z", "n": 14},
      {"time": "2026-05-28T07:10Z", "temp": 20000},
      {"time": "2026-05-28T07:20Z", "bz": -3.0},
      {"time": "2026-05-28T09:30Z", "n": 13.6},
      {"time": "2026-05-28T10:20Z", "bz": -2.0},
      {"time": "2026-05-28T14:18Z", "n": 11.7},
      {"time": "2026-05-28T17:20Z", "bz": -4.0},
      {"time": "2026-05-28T19:10Z", "v": 475},
      {"time": "2026-05-28T20:10Z", "temp": 250000},
      {"time": "2026-05-28T21:20Z", "v": 485},
      {"time": "2026-05-28T22:42Z", "n": 10},
      {"time": "2026-05-29T03:30Z", "n": 1.05, "temp": 15000}
    ]
  },
  "data": {"name": "sw"},
  "resolve": {"scale": {"y": "independent"}, "axis": {"x": "independent", "y": "independent"}},
  "layer": [
    {
      "data": {"name": "imf"},
      "mark": {"type": "rect"},
      "encoding": {
        "x": {"field": "start", "type": "temporal", "scale": {"type": "utc", "domain": [{"year": 2026, "month": 5, "date": 23, "utc": true}, {"year": 2026, "month": 5, "date": 30, "utc": true}], "nice": false}, "axis": null},
        "x2": {"field": "end"},
        "y": {"datum": 25, "type": "quantitative", "scale": {"domain": [-25, 25], "range": [282, 150], "nice": false, "zero": false}, "axis": null},
        "y2": {"datum": -25},
        "color": {"field": "dir", "type": "nominal", "scale": {"domain": ["toward", "mixed", "away"], "range": ["#29aae2", "#9dcde0", "#ffff4f"]}, "legend": null}
      }
    },
    {
      "mark": {"type": "line", "color": "#ff0000", "strokeWidth": 1, "invalid": "filter"},
      "encoding": {
        "x": {"field": "time", "type": "temporal", "scale": {"type": "utc", "domain": [{"year": 2026, "month": 5, "date": 23, "utc": true}, {"year": 2026, "month": 5, "date": 30, "utc": true}], "nice": false},
          "axis": {"orient": "top", "title": null, "labels": false, "domain": true, "tickCount": 168, "tickSize": 3}},
        "y": {"field": "bz", "type": "quantitative", "scale": {"domain": [-25, 25], "range": [150, 0], "nice": false, "zero": false},
          "axis": {"orient": "left", "title": "Bz", "titleColor": "#ff0000", "titleX": -95, "titleY": 93, "titleAngle": -90, "titleAlign": "center", "titleBaseline": "alphabetic", "domain": true, "tickCount": 5, "tickSize": 10, "labelPadding": 4, "grid": true, "gridColor": "black", "gridDash": [1, 2]}}
      }
    },
    {
      "mark": {"type": "line", "color": "black", "strokeWidth": 1, "invalid": "filter"},
      "encoding": {
        "x": {"field": "time", "type": "temporal", "scale": {"type": "utc", "domain": [{"year": 2026, "month": 5, "date": 23, "utc": true}, {"year": 2026, "month": 5, "date": 30, "utc": true}], "nice": false},
          "axis": {"orient": "top", "title": null, "labels": false, "tickCount": 14, "tickSize": 5}},
        "y": {"field": "bt", "type": "quantitative", "scale": {"domain": [-25, 25], "range": [150, 0], "nice": false, "zero": false},
          "axis": {"orient": "left", "title": "Btotal", "titleX": -95, "titleY": 36, "titleAngle": -90, "titleAlign": "center", "titleBaseline": "alphabetic", "labels": false, "tickCount": 50, "tickSize": 6}}
      }
    },
    {
      "mark": {"type": "line", "strokeOpacity": 0, "invalid": "filter"},
      "encoding": {
        "x": {"field": "time", "type": "temporal", "scale": {"type": "utc", "domain": [{"year": 2026, "month": 5, "date": 23, "utc": true}, {"year": 2026, "month": 5, "date": 30, "utc": true}], "nice": false},
          "axis": {"orient": "top", "zindex": 1, "title": null, "labels": false, "ticks": false, "tickCount": 7, "grid": true, "gridColor": "black", "gridDash": [1, 2]}},
        "y": {"field": "bt", "type": "quantitative", "scale": {"domain": [-25, 25], "range": [150, 0], "nice": false, "zero": false},
          "axis": {"orient": "right", "title": null, "labels": false, "domain": true, "tickCount": 5, "tickSize": 10}}
      }
    },
    {
      "mark": {"type": "line", "strokeOpacity": 0, "invalid": "filter"},
      "encoding": {
        "x": {"field": "time", "type": "temporal", "scale": {"type": "utc", "domain": [{"year": 2026, "month": 5, "date": 23, "utc": true}, {"year": 2026, "month": 5, "date": 30, "utc": true}], "nice": false},
          "axis": {"orient": "top", "offset": -150, "title": null, "labels": false, "domain": true, "tickCount": 168, "tickSize": 3}},
        "y": {"field": "bt", "type": "quantitative", "scale": {"domain": [-25, 25], "range": [150, 0], "nice": false, "zero": false},
          "axis": {"orient": "right", "title": null, "labels": false, "tickCount": 50, "tickSize": 6}}
      }
    },
    {
      "mark": {"type": "line", "strokeOpacity": 0, "invalid": "filter"},
      "encoding": {
        "x": {"field": "time", "type": "temporal", "scale": {"type": "utc", "domain": [{"year": 2026, "month": 5, "date": 23, "utc": true}, {"year": 2026, "month": 5, "date": 30, "utc": true}], "nice": false},
          "axis": {"orient": "top", "offset": -150, "title": null, "labels": false, "tickCount": 14, "tickSize": 5}},
        "y": {"field": "bt", "type": "quantitative", "scale": {"domain": [-25, 25], "range": [150, 0], "nice": false, "zero": false},
          "axis": {"orient": "left", "title": "(nT, GSM)", "titleX": -63, "titleY": 70, "titleAngle": -90, "titleAlign": "center", "titleBaseline": "alphabetic", "labels": false, "ticks": false}}
      }
    },
    {
      "mark": {"type": "line", "color": "#0000ff", "strokeWidth": 1, "invalid": "filter"},
      "encoding": {
        "x": {"field": "time", "type": "temporal", "scale": {"type": "utc", "domain": [{"year": 2026, "month": 5, "date": 23, "utc": true}, {"year": 2026, "month": 5, "date": 30, "utc": true}], "nice": false},
          "axis": {"orient": "bottom", "offset": -473, "title": null, "labels": false, "domain": true, "tickCount": 168, "tickSize": 3}},
        "y": {"field": "bx", "type": "quantitative", "scale": {"domain": [-25, 25], "range": [282, 150], "nice": false, "zero": false},
          "axis": {"orient": "left", "zindex": 1, "title": "Bx", "titleColor": "#0000ff", "titleX": -95, "titleY": 191, "titleAngle": -90, "titleAlign": "center", "titleBaseline": "alphabetic", "domain": true, "tickCount": 5, "tickSize": 10, "labelPadding": 4, "grid": true, "gridColor": "black", "gridDash": [1, 2]}}
      }
    },
    {
      "mark": {"type": "line", "color": "black", "strokeWidth": 1, "invalid": "filter"},
      "encoding": {
        "x": {"field": "time", "type": "temporal", "scale": {"type": "utc", "domain": [{"year": 2026, "month": 5, "date": 23, "utc": true}, {"year": 2026, "month": 5, "date": 30, "utc": true}], "nice": false},
          "axis": {"orient": "bottom", "offset": -473, "title": null, "labels": false, "tickCount": 14, "tickSize": 5}},
        "y": {"field": "by", "type": "quantitative", "scale": {"domain": [-25, 25], "range": [282, 150], "nice": false, "zero": false},
          "axis": {"orient": "left", "title": "By", "titleX": -95, "titleY": 234, "titleAngle": -90, "titleAlign": "center", "titleBaseline": "alphabetic", "labels": false, "tickCount": 50, "tickSize": 6}}
      }
    },
    {
      "mark": {"type": "line", "strokeOpacity": 0, "invalid": "filter"},
      "encoding": {
        "x": {"field": "time", "type": "temporal", "scale": {"type": "utc", "domain": [{"year": 2026, "month": 5, "date": 23, "utc": true}, {"year": 2026, "month": 5, "date": 30, "utc": true}], "nice": false}, "axis": null},
        "y": {"field": "by", "type": "quantitative", "scale": {"domain": [-25, 25], "range": [282, 150], "nice": false, "zero": false},
          "axis": {"orient": "right", "title": ["Blue:", "Toward Sun"], "titleColor": "#29aae2", "titleFontSize": 15, "titleAngle": 0, "titleAlign": "left", "titleBaseline": "alphabetic", "titleX": 29.7, "titleY": 165.6, "titleLineHeight": 16.5, "labels": false, "domain": true, "tickCount": 5, "tickSize": 10}}
      }
    },
    {
      "mark": {"type": "line", "strokeOpacity": 0, "invalid": "filter"},
      "encoding": {
        "x": {"field": "time", "type": "temporal", "scale": {"type": "utc", "domain": [{"year": 2026, "month": 5, "date": 23, "utc": true}, {"year": 2026, "month": 5, "date": 30, "utc": true}], "nice": false}, "axis": null},
        "y": {"field": "by", "type": "quantitative", "scale": {"domain": [-25, 25], "range": [282, 150], "nice": false, "zero": false},
          "axis": {"orient": "right", "title": ["Yellow:", "Away from Sun"], "titleFontSize": 15, "titleAngle": 0, "titleAlign": "left", "titleBaseline": "alphabetic", "titleX": 29.7, "titleY": 231.6, "titleLineHeight": 16.5, "labels": false, "tickCount": 50, "tickSize": 6}}
      }
    },
    {
      "mark": {"type": "line", "strokeOpacity": 0, "invalid": "filter"},
      "encoding": {
        "x": {"field": "time", "type": "temporal", "scale": {"type": "utc", "domain": [{"year": 2026, "month": 5, "date": 23, "utc": true}, {"year": 2026, "month": 5, "date": 30, "utc": true}], "nice": false}, "axis": null},
        "y": {"field": "by", "type": "quantitative", "scale": {"domain": [-25, 25], "range": [282, 150], "nice": false, "zero": false},
          "axis": {"orient": "left", "title": "(nT, GSM)", "titleX": -63, "titleY": 209, "titleAngle": -90, "titleAlign": "center", "titleBaseline": "alphabetic", "labels": false, "ticks": false}}
      }
    },
    {
      "mark": {"type": "line", "color": "#ff8000", "strokeWidth": 1, "invalid": "filter"},
      "encoding": {
        "x": {"field": "time", "type": "temporal", "scale": {"type": "utc", "domain": [{"year": 2026, "month": 5, "date": 23, "utc": true}, {"year": 2026, "month": 5, "date": 30, "utc": true}], "nice": false},
          "axis": {"orient": "top", "offset": -301.5, "title": null, "labels": false, "domain": true, "tickCount": 168, "tickSize": 3}},
        "y": {"field": "v", "type": "quantitative", "scale": {"domain": [200, 900], "range": [453.5, 301.5], "nice": false, "zero": false},
          "axis": {"orient": "left", "title": "Speed", "titleX": -97, "titleY": 377.5, "titleAngle": -90, "titleAlign": "center", "titleBaseline": "alphabetic", "domain": true, "tickCount": 7, "tickSize": 7, "labelPadding": 0, "labelExpr": "datum.value == 200 ? '' : datum.label", "grid": true, "gridColor": "black", "gridDash": [1, 2]}}
      }
    },
    {
      "mark": {"type": "line", "strokeOpacity": 0, "invalid": "filter"},
      "encoding": {
        "x": {"field": "time", "type": "temporal", "scale": {"type": "utc", "domain": [{"year": 2026, "month": 5, "date": 23, "utc": true}, {"year": 2026, "month": 5, "date": 30, "utc": true}], "nice": false},
          "axis": {"orient": "top", "offset": -301.5, "title": null, "labels": false, "tickCount": 14, "tickSize": 5}},
        "y": {"field": "v", "type": "quantitative", "scale": {"domain": [200, 900], "range": [453.5, 301.5], "nice": false, "zero": false},
          "axis": {"orient": "left", "title": "(km/s)", "titleX": -62, "titleY": 376.5, "titleAngle": -90, "titleAlign": "center", "titleBaseline": "alphabetic", "labels": false, "tickCount": 70, "tickSize": -9}}
      }
    },
    {
      "mark": {"type": "line", "strokeOpacity": 0, "invalid": "filter"},
      "encoding": {
        "x": {"field": "time", "type": "temporal", "scale": {"type": "utc", "domain": [{"year": 2026, "month": 5, "date": 23, "utc": true}, {"year": 2026, "month": 5, "date": 30, "utc": true}], "nice": false},
          "axis": {"orient": "top", "offset": -453.5, "title": null, "labels": false, "domain": true, "tickCount": 168, "tickSize": 3}},
        "y": {"field": "v", "type": "quantitative", "scale": {"domain": [200, 900], "range": [453.5, 301.5], "nice": false, "zero": false},
          "axis": {"orient": "right", "title": null, "labels": false, "domain": true, "tickCount": 7, "tickSize": -14}}
      }
    },
    {
      "mark": {"type": "line", "strokeOpacity": 0, "invalid": "filter"},
      "encoding": {
        "x": {"field": "time", "type": "temporal", "scale": {"type": "utc", "domain": [{"year": 2026, "month": 5, "date": 23, "utc": true}, {"year": 2026, "month": 5, "date": 30, "utc": true}], "nice": false},
          "axis": {"orient": "top", "offset": -453.5, "title": null, "labels": false, "tickCount": 14, "tickSize": 5}},
        "y": {"field": "v", "type": "quantitative", "scale": {"domain": [200, 900], "range": [453.5, 301.5], "nice": false, "zero": false},
          "axis": {"orient": "right", "title": null, "labels": false, "tickCount": 70, "tickSize": -9}}
      }
    },
    {
      "mark": {"type": "line", "color": "#ff00cc", "strokeWidth": 1, "invalid": "filter"},
      "encoding": {
        "x": {"field": "time", "type": "temporal", "scale": {"type": "utc", "domain": [{"year": 2026, "month": 5, "date": 23, "utc": true}, {"year": 2026, "month": 5, "date": 30, "utc": true}], "nice": false},
          "axis": {"orient": "top", "offset": -604, "title": null, "labels": false, "domain": true, "tickCount": 168, "tickSize": 3}},
        "y": {"field": "n", "type": "quantitative", "scale": {"type": "log", "domain": [0.1, 100], "range": [604, 453.5], "nice": false},
          "axis": {"orient": "left", "title": "Density", "titleX": -97, "titleY": 548.5, "titleAngle": -90, "titleAlign": "center", "titleBaseline": "alphabetic", "domain": true, "values": [0.1, 1, 10, 100], "format": ".1f", "labelFlush": true, "labelFlushOffset": -3, "tickSize": 7, "labelPadding": 0, "grid": true, "gridColor": "black", "gridDash": [1, 2]}}
      }
    },
    {
      "mark": {"type": "line", "strokeOpacity": 0, "invalid": "filter"},
      "encoding": {
        "x": {"field": "time", "type": "temporal", "scale": {"type": "utc", "domain": [{"year": 2026, "month": 5, "date": 23, "utc": true}, {"year": 2026, "month": 5, "date": 30, "utc": true}], "nice": false},
          "axis": {"orient": "top", "offset": -604, "title": null, "labels": false, "tickCount": 14, "tickSize": 5}},
        "y": {"field": "n", "type": "quantitative", "scale": {"type": "log", "domain": [0.1, 100], "range": [604, 453.5], "nice": false},
          "axis": {"orient": "left", "title": "(cm⁻³)", "titleX": -69, "titleY": 533.5, "titleAngle": -90, "titleAlign": "center", "titleBaseline": "alphabetic", "labels": false, "tickCount": 10, "tickSize": -9}}
      }
    },
    {
      "mark": {"type": "line", "strokeOpacity": 0, "invalid": "filter"},
      "encoding": {
        "x": {"field": "time", "type": "temporal", "scale": {"type": "utc", "domain": [{"year": 2026, "month": 5, "date": 23, "utc": true}, {"year": 2026, "month": 5, "date": 30, "utc": true}], "nice": false}, "axis": null},
        "y": {"field": "n", "type": "quantitative", "scale": {"type": "log", "domain": [0.1, 100], "range": [604, 453.5], "nice": false},
          "axis": {"orient": "right", "title": null, "labels": false, "domain": true, "values": [0.1, 1, 10, 100], "tickSize": -14}}
      }
    },
    {
      "mark": {"type": "line", "strokeOpacity": 0, "invalid": "filter"},
      "encoding": {
        "x": {"field": "time", "type": "temporal", "scale": {"type": "utc", "domain": [{"year": 2026, "month": 5, "date": 23, "utc": true}, {"year": 2026, "month": 5, "date": 30, "utc": true}], "nice": false}, "axis": null},
        "y": {"field": "n", "type": "quantitative", "scale": {"type": "log", "domain": [0.1, 100], "range": [604, 453.5], "nice": false},
          "axis": {"orient": "right", "title": null, "labels": false, "tickCount": 10, "tickSize": -9}}
      }
    },
    {
      "mark": {"type": "line", "color": "#9400d3", "strokeWidth": 1, "invalid": "filter"},
      "encoding": {
        "x": {"field": "time", "type": "temporal", "scale": {"type": "utc", "domain": [{"year": 2026, "month": 5, "date": 23, "utc": true}, {"year": 2026, "month": 5, "date": 30, "utc": true}], "nice": false},
          "axis": {"orient": "bottom", "title": null, "labels": false, "domain": true, "tickCount": 168, "tickSize": 3}},
        "y": {"field": "temp", "type": "quantitative", "scale": {"type": "log", "domain": [10000, 10000000], "range": [755, 604], "nice": false},
          "axis": {"orient": "left", "title": "Temperature", "titleX": -100, "titleY": 677, "titleAngle": -90, "titleAlign": "center", "titleBaseline": "alphabetic", "domain": true, "values": [10000, 100000, 1000000, 10000000], "labelExpr": "datum.value < 50000 ? '10⁴' : datum.value < 500000 ? '10⁵' : datum.value < 5000000 ? '10⁶' : '10⁷'", "labelFontSize": 19, "labelFlush": true, "labelFlushOffset": -3, "tickSize": 7, "labelPadding": 0, "grid": true, "gridColor": "black", "gridDash": [1, 2]}}
      }
    },
    {
      "mark": {"type": "line", "strokeOpacity": 0, "invalid": "filter"},
      "encoding": {
        "x": {"field": "time", "type": "temporal", "scale": {"type": "utc", "domain": [{"year": 2026, "month": 5, "date": 23, "utc": true}, {"year": 2026, "month": 5, "date": 30, "utc": true}], "nice": false},
          "axis": {"orient": "bottom", "title": null, "tickCount": 14, "tickSize": 5, "labelExpr": "utchours(datum.value) == 0 ? '00' : '12'", "labelFontSize": 19.5, "labelPadding": 3, "labelFlush": false}},
        "y": {"field": "temp", "type": "quantitative", "scale": {"type": "log", "domain": [10000, 10000000], "range": [755, 604], "nice": false},
          "axis": {"orient": "left", "title": "(K)", "titleX": -60, "titleY": 665, "titleAngle": -90, "titleAlign": "center", "titleBaseline": "alphabetic", "labels": false, "tickCount": 10, "tickSize": -9}}
      }
    },
    {
      "mark": {"type": "line", "strokeOpacity": 0, "invalid": "filter"},
      "encoding": {
        "x": {"field": "time", "type": "temporal", "scale": {"type": "utc", "domain": [{"year": 2026, "month": 5, "date": 23, "utc": true}, {"year": 2026, "month": 5, "date": 30, "utc": true}], "nice": false},
          "axis": {"orient": "bottom", "offset": 37, "title": null, "domain": true, "tickCount": 7, "tickSize": -4, "labelExpr": "utcFormat(datum.value, '%d %b.')", "labelFontSize": 19.5, "labelPadding": 11, "labelFlush": false}},
        "y": {"field": "temp", "type": "quantitative", "scale": {"type": "log", "domain": [10000, 10000000], "range": [755, 604], "nice": false},
          "axis": {"orient": "right", "title": ["Not for publication", "\u200b", "data from NOAA/SWPC", "plotted by NICT", "\u200b", "Last update:", "2026/05/29 05:00 UT"], "titleFontSize": 15, "titleAngle": 0, "titleAlign": "left", "titleBaseline": "alphabetic", "titleX": 29.7, "titleY": 633, "titleLineHeight": 17.5, "labels": false, "domain": true, "values": [10000, 100000, 1000000, 10000000], "tickSize": -14}}
      }
    },
    {
      "mark": {"type": "line", "strokeOpacity": 0, "invalid": "filter"},
      "encoding": {
        "x": {"field": "time", "type": "temporal", "scale": {"type": "utc", "domain": [{"year": 2026, "month": 5, "date": 23, "utc": true}, {"year": 2026, "month": 5, "date": 30, "utc": true}], "nice": false}, "axis": null},
        "y": {"field": "temp", "type": "quantitative", "scale": {"type": "log", "domain": [10000, 10000000], "range": [755, 604], "nice": false},
          "axis": {"orient": "right", "title": null, "labels": false, "tickCount": 10, "tickSize": -9}}
      }
    }
  ]
}
